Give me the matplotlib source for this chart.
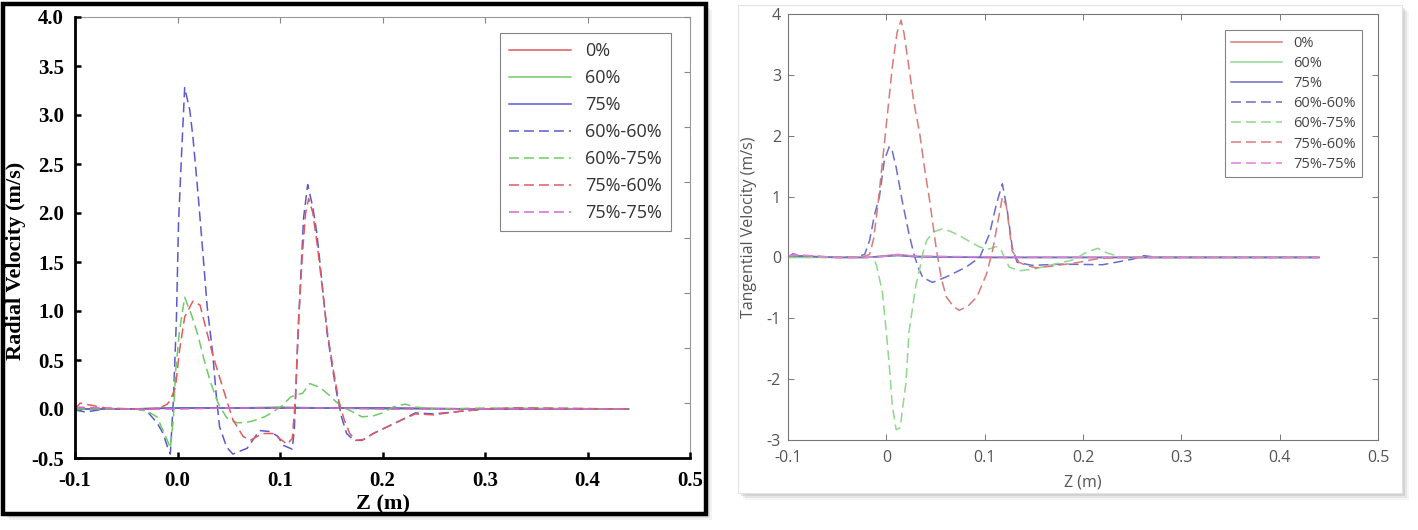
import numpy as np
import matplotlib.pyplot as plt
from matplotlib.patches import Rectangle
#-------------------------------------------------------------------------------
# data (z in m, velocity in m/s)

labels = ['0%', '60%', '75%', '60%-60%', '60%-75%', '75%-60%', '75%-75%']

# left: radial velocity
l_flat_z = [-0.1, -0.05, 0.0, 0.05, 0.1, 0.15, 0.2, 0.3, 0.44]
l0_v  = [0.0, 0.0, 0.01, 0.01, 0.01, 0.01, 0.01, 0.0, 0.0]
l60_v = [0.0, 0.0, 0.01, 0.01, 0.02, 0.01, 0.0, 0.0, 0.0]
l75_v = [0.0, 0.0, 0.01, 0.01, 0.01, 0.01, 0.01, 0.0, 0.0]
lm_v  = [0.02, 0.0, 0.0, 0.01, 0.01, 0.01, 0.0, 0.0, 0.0]

lb_z = [-0.1, -0.09, -0.07, -0.04, -0.03, -0.02, -0.014, -0.01, -0.007, -0.004,
        -0.001, 0.001, 0.004, 0.007, 0.012, 0.015, 0.02, 0.024, 0.029, 0.034,
        0.038, 0.041, 0.048, 0.054, 0.068, 0.08, 0.09, 0.098, 0.103, 0.112,
        0.114, 0.117, 0.12, 0.123, 0.127, 0.132, 0.136, 0.14, 0.146, 0.151,
        0.156, 0.16, 0.165, 0.172, 0.18, 0.191, 0.203, 0.215, 0.232, 0.25,
        0.27, 0.3, 0.33, 0.44]
lb_v = [-0.01, -0.03, 0.0, 0.0, -0.02, -0.14, -0.25, -0.38, -0.46, 0.09,
        0.94, 1.9, 2.61, 3.28, 3.05, 2.78, 2.2, 1.69, 1.04, 0.6,
        0.12, -0.18, -0.39, -0.46, -0.4, -0.22, -0.23, -0.28, -0.37, -0.41,
        -0.2, 0.6, 1.3, 1.95, 2.29, 2.06, 1.79, 1.39, 0.77, 0.43,
        0.12, -0.08, -0.25, -0.32, -0.32, -0.25, -0.19, -0.13, -0.04, -0.05,
        -0.03, 0.0, 0.01, 0.0]

lg_z = [-0.1, -0.07, -0.04, -0.03, -0.02, -0.01, -0.007, -0.004, -0.002, 0.002,
        0.007, 0.014, 0.02, 0.026, 0.032, 0.04, 0.048, 0.058, 0.066, 0.074,
        0.085, 0.093, 0.103, 0.11, 0.117, 0.122, 0.129, 0.139, 0.147, 0.155,
        0.163, 0.171, 0.18, 0.191, 0.2, 0.21, 0.222, 0.232, 0.25, 0.3, 0.44]
lg_v = [0.0, 0.0, 0.0, -0.02, -0.08, -0.32, -0.4, -0.1, 0.37, 0.8,
        1.14, 0.95, 0.75, 0.5, 0.28, 0.05, -0.09, -0.14, -0.14, -0.12,
        -0.08, -0.03, 0.04, 0.12, 0.15, 0.16, 0.26, 0.22, 0.15, 0.07,
        0.01, -0.03, -0.08, -0.07, -0.04, 0.02, 0.05, 0.02, 0.0, 0.01, 0.0]

lr_z = [-0.1, -0.095, -0.085, -0.07, -0.04, -0.025, -0.017, -0.01, -0.007, -0.002,
        0.002, 0.007, 0.015, 0.022, 0.029, 0.035, 0.045, 0.054, 0.064, 0.071,
        0.083, 0.093, 0.102, 0.107, 0.112, 0.115, 0.118, 0.122, 0.125, 0.128,
        0.132, 0.136, 0.14, 0.146, 0.152, 0.158, 0.163, 0.168, 0.174, 0.182,
        0.191, 0.203, 0.215, 0.232, 0.25, 0.27, 0.3, 0.33, 0.44]
lr_v = [0.0, 0.06, 0.04, 0.01, 0.0, 0.0, 0.01, 0.05, 0.09, 0.22,
        0.6, 0.94, 1.1, 1.06, 0.77, 0.53, 0.19, -0.11, -0.28, -0.32,
        -0.25, -0.25, -0.32, -0.36, -0.3, 0.1, 0.9, 1.6, 2.0, 2.15,
        2.0, 1.7, 1.35, 0.8, 0.4, 0.05, -0.12, -0.25, -0.32, -0.31,
        -0.25, -0.19, -0.13, -0.05, -0.06, -0.03, 0.0, 0.01, 0.0]

# right: tangential velocity
r_flat_z = [-0.1, -0.09, -0.05, -0.02, 0.0, 0.012, 0.03, 0.1, 0.2, 0.3, 0.44]
r0_v  = [0.02, 0.03, 0.0, 0.0, 0.03, 0.05, 0.02, 0.0, 0.0, 0.0, 0.0]
r60_v = [0.0, 0.0, 0.0, 0.0, 0.02, 0.04, 0.01, 0.0, 0.0, 0.0, 0.0]
r75_v = [0.0, 0.02, 0.0, 0.0, 0.02, 0.03, 0.01, 0.0, 0.0, 0.0, 0.0]
rm_v  = [0.03, 0.04, 0.0, 0.0, 0.02, 0.04, 0.02, 0.01, 0.0, 0.0, 0.0]

rb_z = [-0.1, -0.095, -0.085, -0.06, -0.03, -0.022, -0.017, -0.012, -0.007, -0.002,
        0.003, 0.006, 0.01, 0.016, 0.023, 0.028, 0.032, 0.037, 0.047, 0.061,
        0.081, 0.095, 0.105, 0.112, 0.118, 0.123, 0.128, 0.133, 0.148, 0.179,
        0.22, 0.25, 0.262, 0.275, 0.3, 0.44]
rb_v = [0.0, 0.06, 0.02, 0.0, 0.01, 0.05, 0.28, 0.7, 1.0, 1.6,
        1.82, 1.75, 1.48, 0.94, 0.39, 0.06, -0.15, -0.33, -0.41, -0.32,
        -0.16, 0.0, 0.39, 0.88, 1.21, 0.77, 0.17, -0.08, -0.13, -0.11,
        -0.12, -0.03, 0.03, 0.0, 0.0, 0.0]

rg_z = [-0.1, -0.05, -0.02, -0.013, -0.01, -0.004, 0.0, 0.003, 0.006, 0.01,
        0.014, 0.02, 0.023, 0.027, 0.03, 0.034, 0.037, 0.041, 0.048, 0.057,
        0.065, 0.074, 0.085, 0.095, 0.105, 0.112, 0.117, 0.125, 0.135, 0.15,
        0.163, 0.19, 0.203, 0.215, 0.225, 0.24, 0.3, 0.44]
rg_v = [0.0, 0.0, 0.01, 0.0, -0.13, -0.57, -1.23, -1.77, -2.43, -2.83,
        -2.8, -2.05, -1.23, -0.79, -0.46, -0.18, 0.06, 0.28, 0.42, 0.47,
        0.43, 0.36, 0.26, 0.17, 0.14, 0.18, 0.11, -0.16, -0.22, -0.19,
        -0.14, -0.04, 0.08, 0.15, 0.07, 0.0, 0.0, 0.0]

rr_z = [-0.1, -0.09, -0.05, -0.025, -0.017, -0.013, -0.009, -0.002, 0.006, 0.011,
        0.015, 0.018, 0.023, 0.028, 0.034, 0.039, 0.044, 0.051, 0.056, 0.061,
        0.068, 0.074, 0.083, 0.092, 0.102, 0.108, 0.113, 0.118, 0.122, 0.128,
        0.135, 0.142, 0.152, 0.17, 0.196, 0.215, 0.24, 0.3, 0.44]
rr_v = [0.02, 0.04, 0.0, 0.0, 0.05, 0.3, 0.8, 1.87, 3.12, 3.7,
        3.9, 3.68, 3.12, 2.55, 2.03, 1.45, 0.94, 0.12, -0.35, -0.65,
        -0.8, -0.87, -0.8, -0.65, -0.27, 0.11, 0.55, 0.99, 0.85, 0.11,
        -0.08, -0.13, -0.17, -0.14, -0.08, -0.02, 0.0, 0.0, 0.0]

x_ticks = [-0.1, 0.0, 0.1, 0.2, 0.3, 0.4, 0.5]
l_xlabels = ['-0.1', '0.0', '0.1', '0.2', '0.3', '0.4', '0.5']
r_xlabels = ['-0.1', '0', '0.1', '0.2', '0.3', '0.4', '0.5']
l_yticks = [-0.5, 0.0, 0.5, 1.0, 1.5, 2.0, 2.5, 3.0, 3.5, 4.0]
l_ylabels = ['-0.5', '0.0', '0.5', '1.0', '1.5', '2.0', '2.5', '3.0', '3.5', '4.0']
r_yticks = [-3, -2, -1, 0, 1, 2, 3, 4]
r_ylabels = ['-3', '-2', '-1', '0', '1', '2', '3', '4']

#-------------------------------------------------------------------------------
W, H = 1418, 530
fig = plt.figure(figsize=(W/100, H/100), dpi=100)
fig.patch.set_facecolor('white')

def fbox(x0, y0, x1, y1):
    # pixel box (top-left origin) -> figure fraction rect
    return (x0/W, 1-y1/H), (x1-x0)/W, (y1-y0)/H

# left frame: thick black with soft shadow
for off, a in [(6, 0.10), (4, 0.15), (2, 0.2)]:
    xy, w, h = fbox(3+off, 4+off, 706+off, 514+off)
    fig.add_artist(Rectangle(xy, w, h, transform=fig.transFigure, facecolor='gray',
                             edgecolor='none', alpha=a, zorder=-3))
xy, w, h = fbox(3, 4, 706, 514)
fig.add_artist(Rectangle(xy, w, h, transform=fig.transFigure, facecolor='white',
                         edgecolor='black', linewidth=3.2, zorder=-2))

# right frame: light border with drop shadow
for off, a in [(7, 0.08), (5, 0.12), (3, 0.18), (1, 0.25)]:
    xy, w, h = fbox(738+off, 5+off, 1402+off, 493+off)
    fig.add_artist(Rectangle(xy, w, h, transform=fig.transFigure, facecolor='gray',
                             edgecolor='none', alpha=a, zorder=-3))
xy, w, h = fbox(738, 5, 1402, 493)
fig.add_artist(Rectangle(xy, w, h, transform=fig.transFigure, facecolor='white',
                         edgecolor='#e2e2e2', linewidth=0.8, zorder=-2))

dash = (0, (6.5, 3.3))
lw = 1.1

#---------------------------------- left panel ---------------------------------
ax1 = fig.add_axes([75/W, 1-458/H, 615/W, 441/H])
lcol = {'r': '#e25a5e', 'g': '#6fcb65', 'b': '#5a5ad0', 'm': '#d468d4'}
ax1.plot(l_flat_z, l0_v, color=lcol['r'], lw=lw, label=labels[0])
ax1.plot(l_flat_z, l60_v, color=lcol['g'], lw=lw, label=labels[1])
ax1.plot(l_flat_z, l75_v, color=lcol['b'], lw=lw, label=labels[2])
ax1.plot(lb_z, lb_v, color=lcol['b'], lw=lw, ls=dash, label=labels[3])
ax1.plot(lg_z, lg_v, color=lcol['g'], lw=lw, ls=dash, label=labels[4])
ax1.plot(lr_z, lr_v, color=lcol['r'], lw=lw, ls=dash, label=labels[5])
ax1.plot(l_flat_z, lm_v, color=lcol['m'], lw=lw, ls=dash, label=labels[6])

ax1.set_xlim(-0.1, 0.5)
ax1.set_ylim(-0.5, 4.0)
serif = dict(family='Liberation Serif', weight='bold')
ax1.set_xticks(x_ticks, l_xlabels, fontsize=15, **serif)
ax1.set_yticks(l_yticks, l_ylabels, fontsize=15, **serif)
ax1.tick_params(direction='in', length=4.5, width=1.8, color='black')
ax1.tick_params(axis='x', pad=9)
ax1.tick_params(axis='y', pad=8)
for s in ['left', 'bottom']:
    ax1.spines[s].set_linewidth(2.0)
for s in ['top', 'right']:
    ax1.spines[s].set_visible(False)
ax1.set_xlabel('Z (m)', fontsize=16, **serif)
ax1.set_ylabel('Radial Velocity (m/s)', fontsize=16, **serif)
ax1.xaxis.set_label_coords(0.5, -0.083)
ax1.yaxis.set_label_coords(-0.079, 0.447)

top1 = ax1.secondary_xaxis('top')
top1.set_xticks(x_ticks)
top1.tick_params(direction='in', length=4, width=0.8, color='#888', labeltop=False)
top1.spines['top'].set_color('#999')
top1.spines['top'].set_linewidth(0.8)
right1 = ax1.secondary_yaxis('right', functions=(lambda y: (y+0.5)*8/4.5,
                                                 lambda u: u*4.5/8-0.5))
right1.set_yticks(range(9))
right1.tick_params(direction='in', length=4, width=0.8, color='#888', labelright=False)
right1.spines['right'].set_color('#999')
right1.spines['right'].set_linewidth(0.8)

leg1 = ax1.legend(loc='upper right', bbox_to_anchor=(0.969, 0.964), borderaxespad=0,
                  fancybox=False, edgecolor='#666', handlelength=3.4,
                  labelspacing=0.5, borderpad=0.5,
                  prop=dict(family='Open Sans', size=13))
leg1.get_frame().set_linewidth(0.8)
for t in leg1.get_texts():
    t.set_color('#333')

#---------------------------------- right panel --------------------------------
ax2 = fig.add_axes([788/W, 1-440/H, 590/W, 426/H])
rcol = {'r': '#d97a7a', 'g': '#8ed98a', 'b': '#6c6ccc', 'm': '#e07fe0'}
ax2.plot(r_flat_z, r0_v, color=rcol['r'], lw=lw, label=labels[0])
ax2.plot(r_flat_z, r60_v, color=rcol['g'], lw=lw, label=labels[1])
ax2.plot(r_flat_z, r75_v, color=rcol['b'], lw=lw, label=labels[2])
ax2.plot(rb_z, rb_v, color=rcol['b'], lw=lw, ls=dash, label=labels[3])
ax2.plot(rg_z, rg_v, color=rcol['g'], lw=lw, ls=dash, label=labels[4])
ax2.plot(rr_z, rr_v, color=rcol['r'], lw=lw, ls=dash, label=labels[5])
ax2.plot(r_flat_z, rm_v, color=rcol['m'], lw=lw, ls=dash, label=labels[6])

ax2.set_xlim(-0.1, 0.5)
ax2.set_ylim(-3, 4)
sans = dict(family='Open Sans')
ax2.set_xticks(x_ticks, r_xlabels, fontsize=11.5, color='#555', **sans)
ax2.set_yticks(r_yticks, r_ylabels, fontsize=11.5, color='#555', **sans)
ax2.tick_params(direction='in', top=True, right=True, length=4, width=0.7,
                color='#777', pad=5)
ax2.tick_params(axis='x', pad=7)
for s in ax2.spines.values():
    s.set_color('#777')
    s.set_linewidth(0.8)
ax2.set_xlabel('Z (m)', fontsize=11.5, color='#555', **sans)
ax2.set_ylabel('Tangential Velocity (m/s)', fontsize=11.5, color='#555', **sans)
ax2.xaxis.set_label_coords(0.5, -0.082)
ax2.yaxis.set_label_coords(-0.053, 0.5)

leg2 = ax2.legend(loc='upper right', bbox_to_anchor=(0.973, 0.962), borderaxespad=0,
                  fancybox=False, edgecolor='#666', handlelength=3.5,
                  labelspacing=0.35, borderpad=0.4,
                  prop=dict(family='Open Sans', size=10.5))
leg2.get_frame().set_linewidth(0.8)
for t in leg2.get_texts():
    t.set_color('#444')

fig.savefig('out.png', dpi=100)
